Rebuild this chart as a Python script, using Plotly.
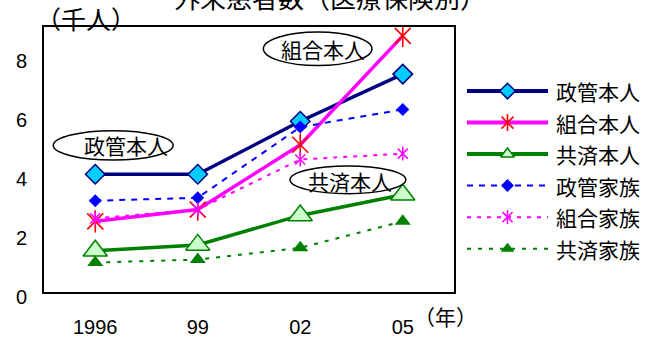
import plotly.graph_objects as go

# ---- data -------------------------------------------------------------
years = ["1996", "99", "02", "05"]
seikan_honnin = [4.0, 4.0, 5.8, 7.4]   # 政管本人
kumiai_honnin = [2.4, 2.8, 5.0, 8.7]   # 組合本人
kyosai_honnin = [1.4, 1.6, 2.6, 3.3]   # 共済本人
seikan_kazoku = [3.1, 3.2, 5.6, 6.2]   # 政管家族
kumiai_kazoku = [2.5, 2.8, 4.5, 4.7]   # 組合家族
kyosai_kazoku = [1.0, 1.1, 1.5, 2.4]   # 共済家族
series_names = ["政管本人", "組合本人", "共済本人", "政管家族", "組合家族", "共済家族"]
y_ticks = [0, 2, 4, 6, 8]

title_text = "外来患者数（医療保険別）"
unit_text = "（千人）"
year_unit_text = "（年）"

# ---- layout geometry (pixels) -------------------------------------------
W, H = 659, 343
ML, MR, MT, MB = 44, 5, 27, 47
PW, PH = W - ML - MR, H - MT - MB
PLOT_RIGHT = 454
LEGEND_TOP, LEGEND_STEP = 92, 32
CJK = "Noto Sans CJK JP"
NUM = "Liberation Sans"


def px_x(p):
    return (p - ML) / PW


def px_y(p):
    return (H - MB - p) / PH


values = [seikan_honnin, kumiai_honnin, kyosai_honnin,
          seikan_kazoku, kumiai_kazoku, kyosai_kazoku]

styles = [
    dict(line=dict(color="#000080", width=3.5),
         marker=dict(symbol="diamond", size=15, color="#00CCFF",
                     line=dict(color="#000080", width=1.5))),
    dict(line=dict(color="#FF00FF", width=3.5),
         marker=dict(symbol="x-thin-open", size=16, color="#FF0000",
                     line=dict(color="#FF0000", width=1.6))),
    dict(line=dict(color="#008000", width=3.5),
         marker=dict(symbol="triangle-up", size=21, color="#CCFFCC",
                     line=dict(color="#008000", width=1.5))),
    dict(line=dict(color="#0000FF", width=2, dash="6px,6px"),
         marker=dict(symbol="diamond", size=10, color="#0000FF",
                     line=dict(color="#0000FF", width=0))),
    dict(line=dict(color="#FF00FF", width=2, dash="4px,6px"),
         marker=dict(symbol="x-thin-open", size=10, color="#FF00FF",
                     line=dict(color="#FF00FF", width=1.5))),
    dict(line=dict(color="#008000", width=2, dash="4px,7px"),
         marker=dict(symbol="triangle-up", size=14, color="#008000",
                     line=dict(color="#008000", width=0))),
]


def stroke_trace(x, y, mk, xa, ya):
    """Vertical stroke that turns the x-thin marker into an asterisk."""
    c = mk["line"]["color"]
    return go.Scatter(
        x=x, y=y, mode="markers", showlegend=False, hoverinfo="skip",
        marker=dict(symbol="line-ns-open", size=mk["size"], color=c,
                    line=dict(color=c, width=mk["line"]["width"])),
        xaxis=xa, yaxis=ya)


fig = go.Figure()

# main series
for name, vals, st in zip(series_names, values, styles):
    fig.add_trace(go.Scatter(
        x=years, y=vals, name=name, mode="lines+markers",
        line=st["line"], marker=st["marker"], showlegend=False,
        xaxis="x", yaxis="y"))
    if st["marker"]["symbol"] == "x-thin-open":
        fig.add_trace(stroke_trace(years, vals, st["marker"], "x", "y"))

# legend drawn on its own small axis pair
legend_rows = [1, 2, 3, 4, 5, 6]
for row, name, st in zip(legend_rows, series_names, styles):
    ls = dict(st["line"])
    if "dash" not in ls:
        ls["width"] = 4
    fig.add_trace(go.Scatter(
        x=[0, 1], y=[row, row], mode="lines", line=ls,
        showlegend=False, xaxis="x2", yaxis="y2", hoverinfo="skip"))
    mk = dict(st["marker"])
    mk["size"] = min(mk["size"], 12)
    fig.add_trace(go.Scatter(
        x=[0.5], y=[row], mode="markers", marker=mk,
        showlegend=False, xaxis="x2", yaxis="y2", hoverinfo="skip"))
    if mk["symbol"] == "x-thin-open":
        fig.add_trace(stroke_trace([0.5], [row], mk, "x2", "y2"))
    fig.add_annotation(x=px_x(554), y=px_y(LEGEND_TOP + LEGEND_STEP * (row - 1)),
                       xref="paper", yref="paper", text=name,
                       showarrow=False, xanchor="left", yanchor="middle",
                       font=dict(family=CJK, size=21, color="black"))

# ellipse call-outs on the plot
callouts = [
    ("政管本人", (-0.41, 0.76, 4.48, 5.48), (0.30, 4.98)),
    ("組合本人", (1.64, 2.70, 7.69, 8.83), (2.22, 8.24)),
    ("共済本人", (1.90, 3.03, 3.34, 4.28), (2.49, 3.76)),
]
for text, (x0, x1, y0, y1), (tx, ty) in callouts:
    fig.add_shape(type="circle", xref="x", yref="y", x0=x0, x1=x1, y0=y0, y1=y1,
                  line=dict(color="black", width=1.5), fillcolor="rgba(0,0,0,0)",
                  layer="above")
    fig.add_annotation(x=tx, y=ty, xref="x", yref="y", text=text, showarrow=False,
                       xanchor="center",
                       font=dict(family=CJK, size=21, color="black"))

# title (its upper half runs past the top edge), unit labels
fig.add_annotation(x=px_x(330), y=px_y(-4), xref="paper", yref="paper",
                   text=title_text, showarrow=False, xanchor="center", yanchor="middle",
                   font=dict(family=CJK, size=26, color="black"))
fig.add_annotation(x=px_x(86), y=px_y(18), xref="paper", yref="paper",
                   text=unit_text, showarrow=False, xanchor="center", yanchor="middle",
                   font=dict(family=CJK, size=25, color="black"))
fig.add_annotation(x=px_x(412), y=px_y(320), xref="paper", yref="paper",
                   text=year_unit_text, showarrow=False, xanchor="left", yanchor="middle",
                   font=dict(family=CJK, size=21, color="black"))

main_frac = (PLOT_RIGHT - ML) / PW
fig.update_layout(
    width=W, height=H,
    margin=dict(l=ML, r=MR, t=MT, b=MB, pad=0),
    paper_bgcolor="white", plot_bgcolor="white",
    showlegend=False,
    xaxis=dict(domain=[0, main_frac], type="category", categoryorder="array",
               categoryarray=years, range=[-0.5, 3.5],
               showgrid=False, zeroline=False, showline=True, linecolor="black",
               linewidth=2, mirror=True, ticks="", ticklabelstandoff=16,
               tickfont=dict(family=NUM, size=20, color="black"), fixedrange=True),
    yaxis=dict(range=[0, 9], tickvals=y_ticks, showgrid=False, zeroline=False,
               showline=True, linecolor="black", linewidth=2, mirror=True,
               ticks="", ticklabelstandoff=11, ticklabelshift=5,
               tickfont=dict(family=NUM, size=20, color="black"), fixedrange=True),
    xaxis2=dict(domain=[px_x(467), px_x(548)], range=[0, 1], anchor="y2",
                visible=False, fixedrange=True),
    yaxis2=dict(domain=[0, 1],
                range=[1 + (H - MB - LEGEND_TOP) / LEGEND_STEP,
                       1 - (LEGEND_TOP - MT) / LEGEND_STEP],
                anchor="x2", visible=False, fixedrange=True),
)

fig.write_html("out.html")
